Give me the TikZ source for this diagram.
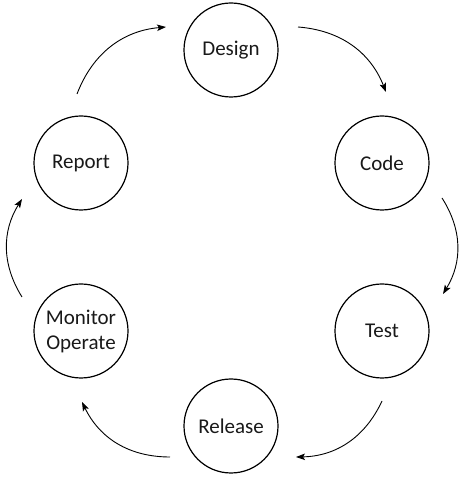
\documentclass[tikz,border=0pt]{standalone}
\usepackage{fontspec}
\setmainfont{Carlito}
\usetikzlibrary{arrows.meta}
\begin{document}
\begin{tikzpicture}[x=1pt,y=1pt,
  stage/.style={circle,draw=black,line width=1.2pt,minimum size=94pt,inner sep=0pt,align=center,font=\fontsize{21}{25}\selectfont,text=black!90},
  flow/.style={line width=0.9pt,-{Stealth[length=9pt,width=6.5pt,inset=2pt]},bend left=32}]
\useasboundingbox (0,0) rectangle (463,481);
\fill[white] (0,0) rectangle (463,481);
\node[stage] (design) at (231,431) {Design};
\node[stage] (code) at (382,318) {Code};
\node[stage] (test) at (382,150) {Test};
\node[stage] (release) at (231,55) {Release};
\node[stage] (monitor) at (81,150) {Monitor\\Operate};
\node[stage] (report) at (81,318) {Report};
\coordinate (rd1) at (77,387);  \coordinate (rd2) at (166,454);
\coordinate (dc1) at (298,454); \coordinate (dc2) at (386,389);
\coordinate (ct1) at (442,283); \coordinate (ct2) at (443,187);
\coordinate (tr1) at (382,80);  \coordinate (tr2) at (296,24);
\coordinate (rm1) at (170,24);  \coordinate (rm2) at (82,79);
\coordinate (mr1) at (22,184);  \coordinate (mr2) at (22,282);
\draw[flow] (rd1) to (rd2);
\draw[flow] (dc1) to (dc2);
\draw[flow] (ct1) to (ct2);
\draw[flow] (tr1) to (tr2);
\draw[flow] (rm1) to (rm2);
\draw[flow] (mr1) to (mr2);
\end{tikzpicture}
\end{document}
